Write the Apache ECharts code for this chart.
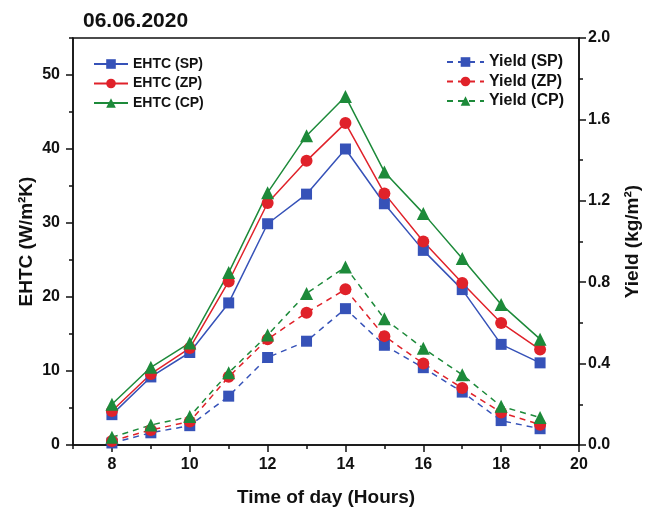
<!DOCTYPE html>
<html><head><meta charset="utf-8">
<script src="https://cdn.jsdelivr.net/npm/echarts@6/dist/echarts.min.js"></script>
<style>html,body{margin:0;padding:0;background:#fff}#c{width:652px;height:513px}</style>
</head><body><div id="c"></div>
<script>
const hours = [8,9,10,11,12,13,14,15,16,17,18,19];
const ehtcSP = [4.1,9.2,12.5,19.2,29.9,33.9,40.0,32.6,26.3,21.0,13.6,11.1];
const ehtcZP = [4.6,9.6,13.1,22.1,32.7,38.4,43.5,34.0,27.5,21.9,16.5,12.9];
const ehtcCP = [5.5,10.5,13.8,23.3,34.1,41.8,47.1,36.9,31.3,25.2,19.0,14.3];
const yieldSP = [0.01,0.06,0.095,0.24,0.43,0.51,0.67,0.49,0.38,0.26,0.12,0.08];
const yieldZP = [0.02,0.074,0.115,0.335,0.52,0.65,0.765,0.535,0.40,0.28,0.16,0.10];
const yieldCP = [0.038,0.098,0.14,0.355,0.54,0.745,0.875,0.62,0.475,0.345,0.19,0.135];
const xTicks = [8,10,12,14,16,18,20];
const yLeftTicks = [0,10,20,30,40,50];

const BLUE = '#3652b8', RED = '#e0222a', GREEN = '#1d8a3a';
const FONT = 'Liberation Sans';
const pair = (arr) => hours.map((h,i)=>[h,arr[i]]);

function mk(name, data, color, symbol, yIdx, dashed) {
  return {
    name, type:'line', data: pair(data), xAxisIndex:0, yAxisIndex:yIdx,
    symbol, symbolSize: symbol==='triangle'?13:(symbol==='circle'?12:11),
    lineStyle:{color, width:1.5, type: dashed? [6,5] : 'solid'},
    itemStyle:{color}, z: 5, animation:false
  };
}

const chart = echarts.init(document.getElementById('c'));
chart.setOption({
  animation:false,
  backgroundColor:'#fff',
  textStyle:{fontFamily:FONT},
  title:{text:'06.06.2020', left:78, top:6, textStyle:{fontFamily:FONT, fontWeight:'bold', fontSize:21, color:'#111'}},
  grid:{left:73, right:73, top:38, bottom:68, show:true, borderColor:'#111', borderWidth:1.5, backgroundColor:'transparent'},
  legend:[
    {data:['EHTC (SP)','EHTC (ZP)','EHTC (CP)'], orient:'vertical', left:88, top:52, itemWidth:34, itemHeight:12, itemGap:5.5,
     textStyle:{fontFamily:FONT, fontWeight:'bold', fontSize:14, color:'#111'}},
    {data:['Yield (SP)','Yield (ZP)','Yield (CP)'], orient:'vertical', left:441, top:49, itemWidth:37, itemHeight:12, itemGap:3.5,
     textStyle:{fontFamily:FONT, fontWeight:'bold', fontSize:16, color:'#111'}}
  ],
  xAxis:[
    {type:'value', min:7, max:20, gridIndex:0,
     name:'Time of day (Hours)', nameLocation:'middle', nameGap:43,
     nameTextStyle:{fontFamily:FONT, fontWeight:'bold', fontSize:19, color:'#111'},
     axisLine:{show:true, lineStyle:{color:'#111', width:1.5}},
     axisTick:{show:true, customValues:xTicks, length:7, lineStyle:{color:'#111', width:1.5}},
     axisLabel:{customValues:xTicks, fontFamily:FONT, fontWeight:'bold', fontSize:16, color:'#111', margin:12},
     splitLine:{show:false}},
    {type:'value', min:7, max:20, interval:1, gridIndex:0,
     axisLine:{show:false}, axisTick:{show:true, length:4, lineStyle:{color:'#111', width:1.5}},
     axisLabel:{show:false}, splitLine:{show:false}, position:'bottom'}
  ],
  yAxis:[
    {type:'value', min:0, max:55, position:'left',
     name:'EHTC (W/m²K)', nameLocation:'middle', nameGap:37, nameRotate:90, nameMoveOverlap:false,
     nameTextStyle:{fontFamily:FONT, fontWeight:'bold', fontSize:19, color:'#111'},
     axisLine:{show:true, lineStyle:{color:'#111', width:1.5}},
     axisTick:{show:true, customValues:yLeftTicks, length:7, lineStyle:{color:'#111', width:1.5}},
     axisLabel:{customValues:yLeftTicks, fontFamily:FONT, fontWeight:'bold', fontSize:16, color:'#111', margin:13},
     splitLine:{show:false}},
    {type:'value', min:0, max:2.0, interval:0.4, position:'right',
     name:'Yield (kg/m²)', nameLocation:'middle', nameGap:44, nameRotate:90,
     nameTextStyle:{fontFamily:FONT, fontWeight:'bold', fontSize:19, color:'#111'},
     axisLine:{show:true, lineStyle:{color:'#111', width:1.5}},
     axisTick:{show:true, length:7, lineStyle:{color:'#111', width:1.5}},
     minorTick:{show:true, splitNumber:2, length:4, lineStyle:{color:'#111', width:1.5}},
     axisLabel:{fontFamily:FONT, fontWeight:'bold', fontSize:16, color:'#111', margin:9, formatter:(v)=>v.toFixed(1)},
     splitLine:{show:false}},
    {type:'value', min:0, max:55, interval:5, position:'left',
     axisLine:{show:false}, axisTick:{show:true, length:4, lineStyle:{color:'#111', width:1.5}},
     axisLabel:{show:false}, splitLine:{show:false}}
  ],
  series:[
    mk('EHTC (SP)', ehtcSP, BLUE, 'rect', 0, false),
    mk('EHTC (ZP)', ehtcZP, RED, 'circle', 0, false),
    mk('EHTC (CP)', ehtcCP, GREEN, 'triangle', 0, false),
    mk('Yield (SP)', yieldSP, BLUE, 'rect', 1, true),
    mk('Yield (ZP)', yieldZP, RED, 'circle', 1, true),
    mk('Yield (CP)', yieldCP, GREEN, 'triangle', 1, true)
  ]
});
</script></body></html>
